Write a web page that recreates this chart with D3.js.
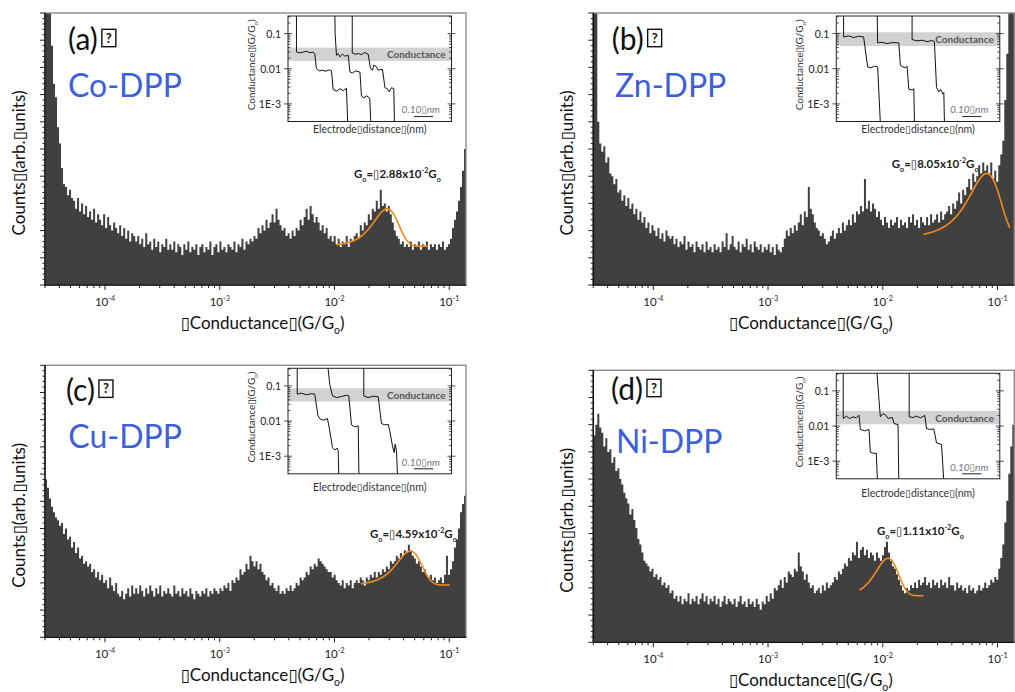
<!DOCTYPE html>
<html><head><meta charset="utf-8">
<script src="https://cdn.jsdelivr.net/npm/d3@7"></script>
<style>
body{margin:0;background:#fff}
svg{display:block}
text{font-family:Lato,"DejaVu Sans",sans-serif}
</style>
</head><body>
<svg id="fig" width="1015" height="692"></svg>
<script>
// ---------- data ----------
const panelIds = ["a", "b", "c", "d"];
const molecules = ["Co-DPP", "Zn-DPP", "Cu-DPP", "Ni-DPP"];

// conductance histogram range (G/Go), bins are log-spaced across it
const histRange = [3e-5, 0.14];
const xTickDecades = [-4, -3, -2, -1];

// counts per bin (arb. units, 100 = top of the plot frame)
const countsA = [120,120,105,88,74,69,58,52,43,37,36,33,35,32,
31,28,32,27,30,26,29,25,27,24,28,23,26,24,
22,26,21,25,22,20,23,21,19,22,
18,21,17,20,16,19,18,
16,18,15,17,14,19,15,16,
13,17,14,16,12,15,14,17,13,15,
13,16,12,15,14,11,15,13,16,12,14,13,15,11,14,
15,12,14,13,16,11,14,15,12,16,13,14,12,15,14,
13,16,12,15,14,17,13,16,15,17,
16,18,17,21,19,22,20,24,21,23,
26,23,28,24,22,20,21,18,19,17,
20,18,21,20,24,22,25,28,24,29,
26,23,25,23,20,22,19,21,17,18,16,
18,15,17,14,16,15,18,14,17,16,
18,19,17,22,20,23,22,26,24,28,
27,31,28,35,29,30,27,29,26,23,20,18,
17,15,16,14,15,14,16,13,15,14,16,13,
15,14,16,13,15,14,15,13,15,14,16,13,14,
15,17,21,24,27,31,36,42,50];

const countsB = [110,110,60,52,
49,51,45,47,41,40,37,39,34,35,
31,33,29,32,28,30,26,28,24,27,
23,25,21,23,19,22,20,18,21,17,19,16,20,18,17,
18,15,17,14,16,15,18,13,16,14,
15,12,16,14,13,15,12,16,13,14,12,
15,13,14,12,16,14,19,13,15,18,14,13,
16,12,15,14,17,13,15,12,16,14,13,15,12,
14,13,15,12,14,11,15,13,12,14,
17,20,18,21,19,22,20,23,26,22,
27,25,36,28,26,23,21,20,18,19,
17,15,16,18,20,17,19,21,19,23,20,22,
24,22,26,23,27,26,29,27,39,28,
31,27,30,28,25,27,24,22,25,23,
21,24,22,23,25,21,24,22,23,
21,25,23,26,22,24,21,25,23,22,
25,22,26,23,24,26,23,27,24,26,
27,29,26,30,28,31,34,30,35,33,
36,39,35,41,38,40,44,41,45,42,
44,41,45,39,42,38,44,48,53,68,85,110,110,110];

const countsC = [58,55,51,48,46,44,
43,41,42,38,40,36,37,33,35,31,
33,29,30,27,28,26,27,24,25,22,24,21,
23,20,21,18,22,19,17,20,16,15,17,14,
16,18,15,19,16,18,16,19,17,15,18,16,19,
17,15,18,16,19,15,17,16,
18,16,15,19,16,17,15,18,16,
17,15,18,16,14,17,16,15,
17,16,18,15,17,16,18,17,
16,18,17,19,18,20,17,21,
20,22,21,25,23,24,27,25,30,28,
26,28,25,27,24,23,21,22,19,20,
18,17,19,16,17,16,18,17,19,17,
18,20,19,22,21,22,24,23,26,25,
27,26,29,28,27,26,25,24,24,22,23,21,
20,19,21,18,20,19,21,18,20,21,
20,22,21,19,22,21,23,22,24,22,24,
23,25,24,26,25,28,27,28,30,29,31,30,
32,31,34,32,30,29,27,28,26,24,25,23,22,
23,21,22,20,21,22,20,23,30,23,25,28,
33,36,40,46,49,52];

const countsD = [76,80,84,79,77,72,75,70,71,66,
68,63,64,60,58,55,53,51,47,49,45,
42,38,36,33,30,29,28,26,27,24,25,
23,24,21,22,20,21,18,19,16,17,
15,17,14,16,15,18,14,
16,15,17,14,16,18,15,17,14,16,
15,17,14,16,13,15,17,14,16,15,
14,16,13,15,17,14,15,13,16,14,
15,13,16,14,12,15,
14,17,15,18,16,20,19,21,23,20,24,22,26,25,
24,27,26,33,28,26,23,25,22,20,21,18,19,
20,18,21,19,22,20,21,22,24,23,26,25,
27,29,28,31,30,33,32,37,31,34,
35,32,34,31,33,32,30,33,31,30,
32,35,37,33,30,28,27,25,23,21,19,18,
20,19,21,20,22,20,23,21,22,24,21,
22,20,23,21,22,20,23,21,22,20,24,21,
21,19,22,20,21,19,20,18,21,19,20,18,19,
21,19,20,22,20,21,23,22,24,23,
27,31,36,44,52,62,72,80];

const panelCounts = [countsA, countsB, countsC, countsD];

// Gaussian fits of the molecular peak (linear in G)
const fitCenters = [2.88e-2, 8.05e-2, 4.59e-2, 1.11e-2];
const fitSigmas  = [0.0072, 0.0251, 0.0115, 0.0025];
const fitAmps    = [13.7, 24, 12.5, 13.8];
const fitBases   = [14.3, 17, 19.2, 17.1];
const fitFrom    = [0.0104, 0.0226, 0.0169, 0.00625];
const fitTo      = [0.065, 0.128, 0.1006, 0.0226];

// inset: conductance window highlighted on the traces
const bandHigh = [0.040, 0.109, 0.086, 0.027];
const bandLow  = [0.0167, 0.0444, 0.0358, 0.0112];
const insetTicks = [0.1, 0.01, 1e-3];
const insetTickLabels = ["0.1", "0.01", "1E-3"];
const scaleBarNm = 0.10;

// individual conductance-distance traces: [distance (nm), G/Go]
const tracesA = [
 [[0.044,0.6],[0.044,0.0301],[0.061,0.0282],[0.078,0.0296],[0.096,0.0315],[0.113,0.0288],[0.130,0.0296],[0.139,0.0271],[0.148,0.0101],[0.162,0.0087],[0.179,0.0091],[0.197,0.0085],[0.214,0.0093],[0.226,0.0087],[0.235,0.00257],[0.252,0.0023],[0.270,0.0027],[0.287,0.0024],[0.304,0.0028],[0.313,0.0001]],
 [[0.243,0.6],[0.245,0.1],[0.252,0.0242],[0.261,0.027],[0.270,0.0218],[0.284,0.026],[0.296,0.0227],[0.313,0.0242],[0.322,0.0081],[0.335,0.0076],[0.352,0.0087],[0.374,0.0080],[0.382,0.00166],[0.394,0.0015],[0.408,0.0017],[0.425,0.00145],[0.434,0.0001]],
 [[0.334,0.6],[0.334,0.0282],[0.348,0.0259],[0.365,0.027],[0.382,0.0253],[0.399,0.0288],[0.417,0.0259],[0.429,0.0101],[0.439,0.0091],[0.446,0.0126],[0.457,0.0118],[0.469,0.0091],[0.491,0.0097],[0.504,0.0029],[0.516,0.0027],[0.526,0.0022],[0.538,0.0029],[0.550,0.0027],[0.555,0.0001]]
];
const tracesB = [
 [[0.038,0.6],[0.038,0.080],[0.064,0.086],[0.090,0.077],[0.116,0.084],[0.142,0.080],[0.163,0.0113],[0.180,0.0106],[0.198,0.0118],[0.215,0.0113],[0.233,0.0001]],
 [[0.212,0.6],[0.215,0.0543],[0.238,0.0567],[0.264,0.052],[0.290,0.0555],[0.325,0.0543],[0.333,0.0126],[0.347,0.0113],[0.359,0.0106],[0.368,0.0118],[0.377,0.0026],[0.394,0.0025],[0.403,0.0027],[0.408,0.0001]],
 [[0.394,0.6],[0.394,0.0676],[0.420,0.062],[0.446,0.0647],[0.472,0.0592],[0.498,0.0633],[0.510,0.0592],[0.521,0.0029],[0.533,0.0022],[0.542,0.0026],[0.554,0.0019],[0.559,0.0021],[0.564,0.0001]]
];
const tracesC = [
 [[0.048,0.6],[0.048,0.058],[0.070,0.062],[0.096,0.0555],[0.122,0.060],[0.139,0.058],[0.156,0.0141],[0.168,0.0113],[0.186,0.0106],[0.205,0.0118],[0.214,0.0066],[0.231,0.00178],[0.243,0.0015],[0.255,0.0017],[0.261,0.00144],[0.266,0.0001]],
 [[0.203,0.6],[0.217,0.111],[0.231,0.052],[0.252,0.0466],[0.278,0.0498],[0.304,0.0543],[0.316,0.052],[0.330,0.0078],[0.347,0.0068],[0.365,0.0073],[0.370,0.0001]],
 [[0.394,0.6],[0.394,0.052],[0.416,0.0466],[0.443,0.051],[0.469,0.049],[0.486,0.0085],[0.503,0.0078],[0.521,0.0081],[0.529,0.0053],[0.543,0.00197],[0.552,0.00127],[0.557,0.0022],[0.564,0.0014],[0.573,0.0001]]
];
const tracesD = [
 [[0.036,0.6],[0.036,0.0164],[0.052,0.0191],[0.069,0.0164],[0.087,0.0183],[0.104,0.0171],[0.118,0.0204],[0.125,0.008],[0.148,0.0073],[0.170,0.008],[0.177,0.0018],[0.199,0.00166],[0.208,0.0017],[0.217,0.0001]],
 [[0.208,0.6],[0.222,0.054],[0.229,0.0183],[0.243,0.0227],[0.257,0.0204],[0.269,0.0164],[0.292,0.0175],[0.300,0.0118],[0.321,0.011],[0.326,0.0001]],
 [[0.379,0.6],[0.379,0.0183],[0.400,0.0175],[0.417,0.0191],[0.438,0.0171],[0.460,0.020],[0.469,0.0085],[0.486,0.008],[0.507,0.0083],[0.521,0.0033],[0.547,0.003],[0.564,0.0001]]
];
const panelTraces = [tracesA, tracesB, tracesC, tracesD];

// ---------- layout ----------
const layout = [
  {left:45,    top:13,    lab:[68,50],     mol:[68,96.7],   note:[354,178],   xl:11},
  {left:593.3, top:13,    lab:[611.7,50],  mol:[615,96.7],  note:[891.7,168.3], xl:11.7},
  {left:45,    top:365.3, lab:[66,400.7],  mol:[68.3,448.3], note:[370,538.3], xl:17.4},
  {left:593.3, top:370.3, lab:[611,400],   mol:[616,452.7], note:[877,535],   xl:17.7}
];
const PW = 421, PH = 272;
const INSET = {dx:243, dy:3, w:163.5, h:105.5};

const HIST = "#404040", FIT = "#f28a1a", BLUE = "#3d5fdc", FRAME = "#8a8a8a";
const BOX = "\u25AF";

const svg = d3.select("#fig");
const defs = svg.append("defs");

// text with sub/superscript runs
function rich(parent, x, y, parts, size, attrs) {
  const t = parent.append("text").attr("x", x).attr("y", y).attr("font-size", size);
  Object.entries(attrs || {}).forEach(([k, v]) => t.attr(k, v));
  let shift = 0;
  parts.forEach(p => {
    const target = p.sub ? size * 0.32 : p.sup ? -size * 0.42 : 0;
    const ts = t.append("tspan").text(p.t).attr("dy", target - shift);
    if (p.sub || p.sup) ts.attr("font-size", size * 0.62);
    shift = target;
  });
  return t;
}

layout.forEach((L, pi) => {
  const left = L.left, top = L.top, right = left + PW, bottom = top + PH;
  const g = svg.append("g");

  const x = d3.scaleLog().domain(histRange).range([left, right]);
  const y = d3.scaleLinear().domain([0, 100]).range([bottom, top]);

  const clipId = "clip" + pi;
  defs.append("clipPath").attr("id", clipId).append("rect")
    .attr("x", left).attr("y", top).attr("width", PW).attr("height", PH);

  // histogram
  const counts = panelCounts[pi];
  const n = counts.length;
  const lo = Math.log10(histRange[0]), hi = Math.log10(histRange[1]);
  const bins = counts.map((v, k) => ({g: Math.pow(10, lo + k * (hi - lo) / n), v}));
  bins.push({g: histRange[1], v: counts[n - 1]});
  const area = d3.area().x(d => x(d.g)).y0(y(0)).y1(d => y(d.v)).curve(d3.curveStepAfter);
  g.append("path").datum(bins).attr("d", area).attr("fill", HIST)
    .attr("clip-path", `url(#${clipId})`);

  // Gaussian fit
  const gs = d3.range(0, 201).map(k => Math.pow(10,
    Math.log10(fitFrom[pi]) + k / 200 * (Math.log10(fitTo[pi]) - Math.log10(fitFrom[pi]))));
  const fitPts = gs.map(G => [G, fitBases[pi] + fitAmps[pi] *
    Math.exp(-Math.pow(G - fitCenters[pi], 2) / (2 * fitSigmas[pi] * fitSigmas[pi]))]);
  g.append("path").datum(fitPts)
    .attr("d", d3.line().x(d => x(d[0])).y(d => y(d[1])))
    .attr("fill", "none").attr("stroke", FIT).attr("stroke-width", 1.6);

  // frame and axes
  g.append("rect").attr("x", left).attr("y", top).attr("width", PW).attr("height", PH)
    .attr("fill", "none").attr("stroke", FRAME).attr("stroke-width", 1.4);
  g.append("line").attr("x1", left).attr("x2", left).attr("y1", top).attr("y2", bottom + 0.7)
    .attr("stroke", "#111").attr("stroke-width", 1.5);
  g.append("line").attr("x1", left).attr("x2", right).attr("y1", bottom).attr("y2", bottom)
    .attr("stroke", "#111").attr("stroke-width", 1.5);

  // y ticks (no labels)
  d3.range(0, 101, 2).forEach(v => {
    const len = v % 10 === 0 ? 5 : 2.5;
    g.append("line").attr("x1", left - len).attr("x2", left).attr("y1", y(v)).attr("y2", y(v))
      .attr("stroke", "#222").attr("stroke-width", 1);
  });
  // x ticks (log)
  d3.range(-5, 0).forEach(e => {
    d3.range(1, 10).forEach(m => {
      const G = m * Math.pow(10, e);
      if (G < histRange[0] || G > histRange[1]) return;
      const len = m === 1 ? 5 : 3;
      g.append("line").attr("x1", x(G)).attr("x2", x(G)).attr("y1", bottom).attr("y2", bottom + len)
        .attr("stroke", "#222").attr("stroke-width", 1);
    });
  });
  xTickDecades.forEach(e => {
    rich(g, x(Math.pow(10, e)), bottom + 20.5, [{t: "10"}, {t: String(e), sup: true}], 11.5,
      {"text-anchor": "middle", fill: "#222"});
  });

  // axis titles
  rich(g, (left + right) / 2 + 7, bottom + 43.5,
    [{t: BOX + "Conductance" + BOX + "(G/G"}, {t: "o", sub: true}, {t: ")"}], 17,
    {"text-anchor": "middle", fill: "#111"});
  g.append("text")
    .attr("transform", `translate(${left - 26.7},${(top + bottom) / 2 + 14}) rotate(-90)`)
    .attr("text-anchor", "middle").attr("dominant-baseline", "central")
    .attr("font-size", 17).attr("fill", "#111")
    .text("Counts" + BOX + "(arb." + BOX + "units)");

  // panel letter with placeholder box, molecule name
  const lt = g.append("text").attr("x", L.lab[0]).attr("y", L.lab[1]).attr("font-size", 30)
    .attr("fill", "#111").text(`(${panelIds[pi]})`);
  const bx = L.lab[0] + lt.node().getComputedTextLength() + 4;
  g.append("rect").attr("x", bx).attr("y", L.lab[1] - 20.7).attr("width", 14).attr("height", 17.4)
    .attr("fill", "none").attr("stroke", "#111").attr("stroke-width", 1.4);
  g.append("text").attr("x", bx + 7).attr("y", L.lab[1] - 7.3).attr("text-anchor", "middle")
    .attr("font-size", 13).attr("font-weight", "bold").attr("fill", "#111").text("?");
  g.append("text").attr("x", L.mol[0]).attr("y", L.mol[1]).attr("font-size", 32)
    .attr("fill", BLUE).text(molecules[pi]);

  // peak annotation
  const mant = (fitCenters[pi] / 1e-2).toFixed(2);
  rich(g, L.note[0], L.note[1],
    [{t: "G"}, {t: "o", sub: true}, {t: "=" + BOX + mant + "x10"}, {t: "-2", sup: true},
     {t: "G"}, {t: "o", sub: true}], 11.5,
    {"font-weight": "bold", fill: "#222"});

  // ---------- inset ----------
  const il = left + INSET.dx, it = top + INSET.dy, ir = il + INSET.w, ib = it + INSET.h;
  const ix = d3.scaleLinear().domain([0, 0.85]).range([il, ir]);
  const iy = d3.scaleLog().domain([Math.pow(10, -3.5), Math.pow(10, -0.5)]).range([ib, it]);
  const ig = g.append("g");
  const iclip = "iclip" + pi;
  defs.append("clipPath").attr("id", iclip).append("rect")
    .attr("x", il).attr("y", it).attr("width", INSET.w).attr("height", INSET.h);

  ig.append("rect").attr("x", il).attr("y", it).attr("width", INSET.w).attr("height", INSET.h)
    .attr("fill", "#fff");
  ig.append("rect").attr("x", il).attr("y", iy(bandHigh[pi])).attr("width", INSET.w)
    .attr("height", iy(bandLow[pi]) - iy(bandHigh[pi])).attr("fill", "#d2d2d2");
  ig.append("text").attr("x", ir - 6).attr("y", (iy(bandHigh[pi]) + iy(bandLow[pi])) / 2)
    .attr("text-anchor", "end").attr("dominant-baseline", "central")
    .attr("font-size", 10).attr("font-weight", "bold").attr("fill", "#555").text("Conductance");

  const tl = d3.line().x(d => ix(d[0])).y(d => iy(d[1]));
  ig.append("g").attr("clip-path", `url(#${iclip})`).selectAll("path")
    .data(panelTraces[pi]).join("path")
    .attr("d", tl).attr("fill", "none").attr("stroke", "#111").attr("stroke-width", 1);

  ig.append("rect").attr("x", il).attr("y", it).attr("width", INSET.w).attr("height", INSET.h)
    .attr("fill", "none").attr("stroke", "#222").attr("stroke-width", 1);

  // inset log ticks on both sides
  d3.range(-4, 0).forEach(e => {
    d3.range(1, 10).forEach(m => {
      const G = m * Math.pow(10, e);
      if (G < iy.domain()[0] || G > iy.domain()[1]) return;
      const major = m === 1;
      const a = major ? 4 : 0, b = major ? 4 : 2.5;
      [[il, 1], [ir, -1]].forEach(([ax, dir]) => {
        ig.append("line").attr("x1", ax - a * dir).attr("x2", ax + b * dir)
          .attr("y1", iy(G)).attr("y2", iy(G)).attr("stroke", "#222").attr("stroke-width", 0.8);
      });
    });
  });
  insetTicks.forEach((G, k) => {
    ig.append("text").attr("x", il - 7).attr("y", iy(G)).attr("text-anchor", "end")
      .attr("dominant-baseline", "central").attr("font-size", 10.5).attr("fill", "#222")
      .text(insetTickLabels[k]);
  });
  const iyl = ig.append("g")
    .attr("transform", `translate(${il - 36.5},${(it + ib) / 2 - 4}) rotate(-90)`);
  rich(iyl, 0, 3.5, [{t: "Conductance" + BOX + "(G/G"}, {t: "o", sub: true}, {t: ")"}], 10,
    {"text-anchor": "middle", fill: "#333"});
  ig.append("text").attr("x", (il + ir) / 2).attr("y", ib + L.xl).attr("text-anchor", "middle")
    .attr("font-size", 10.5).attr("fill", "#333")
    .text("Electrode" + BOX + "distance" + BOX + "(nm)");

  // scale bar
  const barEnd = ir - 18.4, barLen = ix(scaleBarNm) - ix(0);
  ig.append("line").attr("x1", barEnd - barLen).attr("x2", barEnd).attr("y1", ib - 5).attr("y2", ib - 5)
    .attr("stroke", "#333").attr("stroke-width", 1.1);
  ig.append("text").attr("x", ir - 11.5).attr("y", ib - 8.3).attr("text-anchor", "end")
    .attr("font-size", 10).attr("font-style", "italic").attr("fill", "#777")
    .text("0.10" + BOX + "nm");
});
</script>
</body></html>
